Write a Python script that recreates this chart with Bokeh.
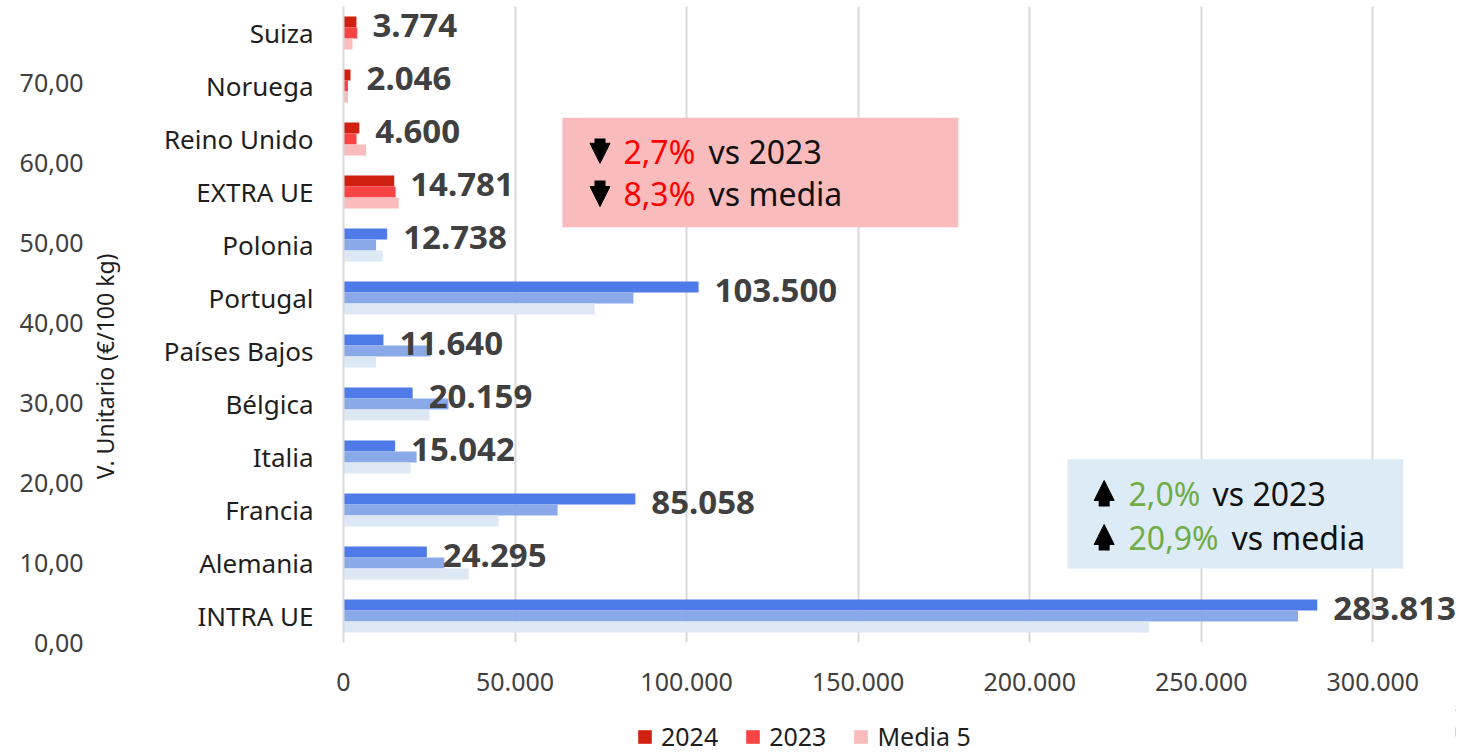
from bokeh.plotting import figure
from bokeh.layouts import column
from bokeh.models import (Range1d, LinearAxis, FixedTicker, BoxAnnotation, Arrow, NormalHead,
                          Label, Legend, LegendItem, ColumnDataSource)
from bokeh.transform import dodge
from bokeh.core.properties import value, field
from bokeh.embed import file_html
from bokeh.resources import INLINE

# ---------------- data ----------------
categories = ["INTRA UE", "Alemania", "Francia", "Italia", "Bélgica", "Países Bajos",
              "Portugal", "Polonia", "EXTRA UE", "Reino Unido", "Noruega", "Suiza"]
region = ["UE", "UE", "UE", "UE", "UE", "UE", "UE", "UE",
          "EXTRA", "EXTRA", "EXTRA", "EXTRA"]
series_names = ["2024", "2023", "Media 5"]
v2024 = [283813, 24295, 85058, 15042, 20159, 11640, 103500, 12738, 14781, 4600, 2046, 3774]
v2023 = [278200, 29400, 62400, 21300, 30600, 25400, 84500, 9500, 15190, 3800, 1300, 4000]
vmedia = [234700, 36500, 45200, 19500, 25100, 9500, 73200, 11400, 16100, 6600, 1300, 2600]
value_labels = ["283.813", "24.295", "85.058", "15.042", "20.159", "11.640",
                "103.500", "12.738", "14.781", "4.600", "2.046", "3.774"]
x_ticks = [0, 50000, 100000, 150000, 200000, 250000, 300000]
x_tick_labels = ["0", "50.000", "100.000", "150.000", "200.000", "250.000", "300.000"]
v_ticks = [0, 10, 20, 30, 40, 50, 60, 70]
v_tick_labels = ["0,00", "10,00", "20,00", "30,00", "40,00", "50,00", "60,00", "70,00"]
v_title = "V. Unitario (€/100 kg)"
extra_notes = [("2,7%", "vs 2023"), ("8,3%", "vs media")]
intra_notes = [("2,0%", "vs 2023"), ("20,9%", "vs media")]

# ---------------- styles ----------------
blue = ["#4F7BE8", "#8AA9E8", "#DDE8F5"]
red = ["#D0200F", "#F84444", "#F9BBBB"]
FONT = "Noto Sans"
W = 1459

# category band centres (one unit per category, bottom to top)
pos = [i + 0.5 for i in range(len(categories))]

cols = {}
for k in range(3):
    cols["c%d" % k] = [red[k] if r == "EXTRA" else blue[k] for r in region]

src = ColumnDataSource(dict(pos=pos, v2024=v2024, v2023=v2023, vmedia=vmedia,
                            lab=value_labels, **cols))

p = figure(width=W, height=710,
           y_range=Range1d(0, len(categories)),
           x_range=Range1d(0, 324100),
           output_backend="svg", toolbar_location=None,
           min_border_left=343, min_border_right=4, min_border_top=6,
           min_border_bottom=68)
p.outline_line_color = None
p.background_fill_color = "white"

# grid
p.ygrid.grid_line_color = None
p.xgrid.ticker = FixedTicker(ticks=x_ticks)
p.xgrid.grid_line_color = "#D9D9D9"
p.xgrid.grid_line_width = 2

# x axis
xa = p.xaxis[0]
xa.ticker = FixedTicker(ticks=x_ticks)
xa.major_label_overrides = dict(zip(x_ticks, x_tick_labels))
xa.axis_line_color = None
xa.major_tick_line_color = None
xa.minor_tick_line_color = None
xa.major_tick_out = 0
xa.major_label_text_font = FONT
xa.major_label_text_font_size = "25px"
xa.major_label_text_color = "#404040"
xa.major_label_standoff = 30

# category axis
ya = p.yaxis[0]
ya.ticker = FixedTicker(ticks=pos)
ya.major_label_overrides = dict(zip(pos, categories))
ya.axis_line_color = "#D9D9D9"
ya.axis_line_width = 2
ya.major_tick_line_color = None
ya.minor_tick_line_color = None
ya.major_tick_out = 0
ya.major_label_text_font = FONT
ya.major_label_text_font_size = "26px"
ya.major_label_text_color = "#1E1E1E"
ya.major_label_standoff = 30

# secondary value axis (with its title between it and the categories)
p.extra_y_ranges = {"v": Range1d(0, 79.5)}
ta = LinearAxis(y_range_name="v", ticker=FixedTicker(ticks=[]),
                axis_label=v_title + "\u00a0" * 14)
ta.axis_line_color = None
ta.major_tick_line_color = None
ta.minor_tick_line_color = None
ta.major_tick_out = 0
ta.major_label_standoff = 0
ta.axis_label_standoff = 40
ta.axis_label_text_font = FONT
ta.axis_label_text_font_style = "normal"
ta.axis_label_text_font_size = "23px"
ta.axis_label_text_color = "#1E1E1E"
p.add_layout(ta, "left")

va = LinearAxis(y_range_name="v", ticker=FixedTicker(ticks=v_ticks),
                major_label_overrides=dict(zip(v_ticks, v_tick_labels)))
va.axis_line_color = None
va.major_tick_line_color = None
va.minor_tick_line_color = None
va.major_tick_out = 0
va.major_label_text_font = FONT
va.major_label_text_font_size = "25px"
va.major_label_text_color = "#404040"
va.major_label_standoff = 2
p.add_layout(va, "left")

# bars
bh = 0.208
r1 = p.hbar(y=dodge("pos", bh), right="v2024", height=bh,
            fill_color=field("c0"), line_color=None, source=src)
r2 = p.hbar(y=dodge("pos", 0), right="v2023", height=bh,
            fill_color=field("c1"), line_color=None, source=src)
r3 = p.hbar(y=dodge("pos", -bh), right="vmedia", height=bh,
            fill_color=field("c2"), line_color=None, source=src)

p.text(x="v2024", y="pos", text="lab", x_offset=16, y_offset=-8, source=src,
       text_font=value(FONT), text_font_style="bold", text_font_size="33px",
       text_color="#404040", text_baseline="middle", text_align="left")

# annotation boxes
p.add_layout(BoxAnnotation(left=63800, right=179200, bottom=51.9, top=65.6,
                           y_range_name="v", fill_color="#F9BBBB", fill_alpha=1,
                           line_color=None))
p.add_layout(BoxAnnotation(left=211000, right=308900, bottom=9.25, top=22.9,
                           y_range_name="v", fill_color="#DDEBF7", fill_alpha=1,
                           line_color=None))

def note(xarrow, y_tail, y_tip, xp, xt, yv, pct, rest, pct_color):
    p.add_layout(Arrow(x_start=xarrow, x_end=xarrow, y_start=y_tail, y_end=y_tip,
                       y_range_name="v", line_width=11, line_color="black",
                       end=NormalHead(size=20, fill_color="black", line_color="black",
                                      line_width=1)))
    p.add_layout(Label(x=xp, y=yv, y_range_name="v", text=pct, text_font=FONT,
                       text_font_size="32px", text_color=pct_color, text_baseline="middle"))
    p.add_layout(Label(x=xt, y=yv, y_range_name="v", text=rest, text_font=FONT,
                       text_font_size="32px", text_color="#111111", text_baseline="middle"))

note(74760, 63.0, 59.9, 81600, 106400, 61.4, extra_notes[0][0], extra_notes[0][1], "#FF0000")
note(74760, 57.75, 54.5, 81600, 106400, 56.1, extra_notes[1][0], extra_notes[1][1], "#FF0000")
note(221700, 17.0, 20.25, 228800, 253300, 18.6, intra_notes[0][0], intra_notes[0][1], "#70AD47")
note(221700, 11.5, 14.75, 228800, 258800, 13.1, intra_notes[1][0], intra_notes[1][1], "#70AD47")

# ---------------- legend strip (only EXTRA colours shown) ----------------
pl = figure(width=W, height=43, x_range=Range1d(-2, -1), y_range=Range1d(0, 1),
            output_backend="svg", toolbar_location=None,
            x_axis_location=None, y_axis_location=None,
            min_border_left=0, min_border_right=0, min_border_top=0, min_border_bottom=0)
pl.outline_line_color = None
pl.grid.grid_line_color = None
lr = [pl.hbar(y="pos", right=s, height=bh, fill_color=field("c%d" % k), line_color=None,
              source=src)
      for k, s in enumerate(["v2024", "v2023", "vmedia"])]
ix = categories.index("EXTRA UE")
legend = Legend(items=[LegendItem(label=n, renderers=[r], index=ix)
                       for n, r in zip(series_names, lr)],
                orientation="horizontal", location=(293, 0))
legend.border_line_color = None
legend.background_fill_alpha = 0
legend.padding = 0
legend.margin = 0
legend.spacing = 26
legend.label_standoff = 8
legend.glyph_width = 17
legend.glyph_height = 17
legend.label_text_font = FONT
legend.label_text_font_size = "25px"
legend.label_text_color = "#1E1E1E"
pl.add_layout(legend)

layout = column(p, pl, spacing=0)

open("out.html", "w", encoding="utf-8").write(file_html(layout, INLINE))
